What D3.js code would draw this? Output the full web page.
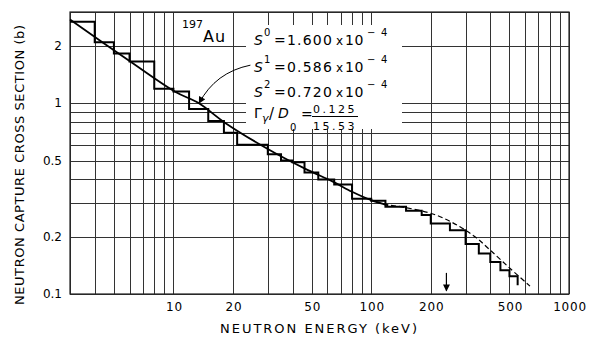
<!DOCTYPE html>
<html lang="en">
<head>
<meta charset="UTF-8">
<title>197Au neutron capture cross section</title>
<script src="https://d3js.org/d3.v7.min.js"></script>
<style>
  body { margin: 0; padding: 0; background: #fff; }
  svg { display: block; font-family: "DejaVu Sans", sans-serif; }
</style>
</head>
<body>
<svg id="chart" width="590" height="337"></svg>
<script>
// staircase: bin edges (keV) and average cross sections (b)
const binEdges = [3, 4, 5, 6, 8, 10, 12, 15, 18, 21, 30, 35, 40, 46, 54, 65, 80, 100,
                  118, 150, 180, 200, 250, 300, 350, 400, 450, 500, 550];
const binSigma = [2.67, 2.08, 1.82, 1.65, 1.19, 1.15, 0.93, 0.805, 0.70, 0.605, 0.54, 0.50,
                  0.49, 0.433, 0.398, 0.375, 0.315, 0.308, 0.286, 0.273, 0.259, 0.234,
                  0.216, 0.183, 0.163, 0.147, 0.133, 0.124];
const lastDrop = 0.111;

// smooth calculated curve (solid) and its continuation (dashed)
const fitE = [3, 6, 10.2, 13.4, 18.2, 30, 46, 64, 80, 100, 122];
const fitS = [2.74, 1.66, 1.146, 1.0, 0.79, 0.575, 0.455, 0.388, 0.343, 0.31, 0.291];
const dashE = [115, 151, 213, 281, 340, 399, 504, 635];
const dashS = [0.295, 0.283, 0.259, 0.225, 0.197, 0.17, 0.136, 0.11];

const xTickLabels = [10, 20, 50, 100, 200, 500, 1000];
const yTickLabels = [0.1, 0.2, 0.5, 1, 2];
const markerE = 240;

const svg = d3.select('#chart');
const margin = { top: 12, right: 21, bottom: 43, left: 70 };
const W = 590, H = 337;

const x = d3.scaleLog().domain([3, 1000]).range([margin.left, W - margin.right]);
const y = d3.scaleLog().domain([0.1, 3]).range([H - margin.bottom, margin.top]);

// grid
const grid = svg.append('g').attr('stroke', '#333').attr('stroke-width', 1)
  .attr('shape-rendering', 'crispEdges');
grid.selectAll('.vx').data(x.ticks()).enter().append('line')
  .attr('x1', d => Math.round(x(d)) + 0.5).attr('x2', d => Math.round(x(d)) + 0.5)
  .attr('y1', y(3)).attr('y2', y(0.1));
grid.selectAll('.hy').data(y.ticks()).enter().append('line')
  .attr('y1', d => Math.round(y(d)) + 0.5).attr('y2', d => Math.round(y(d)) + 0.5)
  .attr('x1', x(3)).attr('x2', x(1000));
svg.append('rect')
  .attr('x', x(3)).attr('y', y(3))
  .attr('width', x(1000) - x(3)).attr('height', y(0.1) - y(3))
  .attr('fill', 'none').attr('stroke', '#222').attr('stroke-width', 1.2);

// white patch behind the parameter block
svg.append('rect').attr('x', 246).attr('y', 25).attr('width', 156).attr('height', 104)
  .attr('fill', '#fff');

// staircase
let stair = `M${x(binEdges[0])},${y(binSigma[0])}`;
binSigma.forEach((s, i) => {
  stair += `V${y(s)}H${x(binEdges[i + 1])}`;
});
stair += `V${y(lastDrop)}`;
svg.append('path').attr('d', stair).attr('fill', 'none')
  .attr('stroke', '#000').attr('stroke-width', 2);

// curves
const line = d3.line().x(d => x(d[0])).y(d => y(d[1])).curve(d3.curveCatmullRom);
svg.append('path').datum(d3.zip(fitE, fitS)).attr('d', line)
  .attr('fill', 'none').attr('stroke', '#000').attr('stroke-width', 1.8);
svg.append('path').datum(d3.zip(dashE, dashS)).attr('d', line)
  .attr('fill', 'none').attr('stroke', '#000').attr('stroke-width', 1.2)
  .attr('stroke-dasharray', '5,3');

// tick labels
svg.append('g').selectAll('text').data(xTickLabels).enter().append('text')
  .attr('x', d => x(d) + 1).attr('y', 311)
  .attr('text-anchor', 'middle').attr('font-size', 12).attr('letter-spacing', 0.8)
  .text(d => d);
svg.append('g').selectAll('text').data(yTickLabels).enter().append('text')
  .attr('x', 62).attr('y', d => y(d) + 4.3)
  .attr('text-anchor', 'end').attr('font-size', 12)
  .text(d => d);

// axis titles
svg.append('text').attr('x', 220).attr('y', 333)
  .attr('font-size', 13).attr('textLength', 197).attr('lengthAdjust', 'spacing')
  .text('NEUTRON ENERGY (keV)');
svg.append('text').attr('transform', 'translate(24,305) rotate(-90)')
  .attr('font-size', 13).attr('textLength', 280).attr('lengthAdjust', 'spacing')
  .text('NEUTRON CAPTURE CROSS SECTION (b)');

// annotation: isotope
const iso = svg.append('text').attr('x', 182).attr('y', 41.5).attr('font-size', 16);
iso.append('tspan').attr('font-size', 11).attr('dy', -13.5).text('197');
iso.append('tspan').attr('dy', 13.5).attr('letter-spacing', 1).text('Au');

// annotation: strength functions
const sLines = [['0', '1.600', 45], ['1', '0.586', 71.5], ['2', '0.720', 96.5]];
sLines.forEach(([l, v, by]) => {
  const t = svg.append('g').attr('font-size', 14);
  t.append('text').attr('x', 254).attr('y', by).attr('font-style', 'italic').text('S');
  t.append('text').attr('x', 264).attr('y', by - 9).attr('font-size', 10).text(l);
  t.append('text').attr('x', 274).attr('y', by).text('=');
  t.append('text').attr('x', 287).attr('y', by).attr('letter-spacing', 1.2).text(v);
  t.append('text').attr('x', 336).attr('y', by).attr('font-size', 12).text('x');
  t.append('text').attr('x', 345).attr('y', by).attr('letter-spacing', 0.5).text('10');
  t.append('text').attr('x', 367).attr('y', by - 9).attr('font-size', 10).text('\u2212');
  t.append('text').attr('x', 381).attr('y', by - 9).attr('font-size', 10).text('4');
});

// Gamma / D0 line
const g = svg.append('g').attr('font-size', 14);
g.append('text').attr('x', 254).attr('y', 118).text('\u0393');
g.append('text').attr('x', 262).attr('y', 122).attr('font-size', 11).attr('font-style', 'italic').text('\u03b3');
g.append('text').attr('x', 269).attr('y', 119).attr('font-size', 15).text('/');
g.append('text').attr('x', 278).attr('y', 118).attr('font-style', 'italic').text('D');
g.append('text').attr('x', 290).attr('y', 131).attr('font-size', 10).text('0');
g.append('text').attr('x', 301).attr('y', 119).text('=');
g.append('text').attr('x', 335).attr('y', 113).attr('font-size', 11).attr('letter-spacing', 2.5)
  .attr('text-anchor', 'middle').text('0.125');
g.append('line').attr('x1', 312).attr('x2', 358).attr('y1', 116.5).attr('y2', 116.5)
  .attr('stroke', '#000').attr('stroke-width', 1.2);
g.append('text').attr('x', 335).attr('y', 130).attr('font-size', 11).attr('letter-spacing', 2.5)
  .attr('text-anchor', 'middle').text('15.53');

// arrow heads
const defs = svg.append('defs');
defs.append('marker').attr('id', 'head').attr('viewBox', '0 0 10 10')
  .attr('refX', 9).attr('refY', 5).attr('markerWidth', 9).attr('markerHeight', 7)
  .attr('markerUnits', 'userSpaceOnUse').attr('orient', 'auto')
  .append('path').attr('d', 'M0,0L10,5L0,10Z').attr('fill', '#000');

// curved pointer from S1 to the curve
const p0 = [24.5, 1.58], pc = [16.3, 1.45], p1 = [13.5, 1.0];
svg.append('path')
  .attr('d', `M${x(p0[0])},${y(p0[1])}Q${x(pc[0])},${y(pc[1])} ${x(p1[0])},${y(p1[1])}`)
  .attr('fill', 'none').attr('stroke', '#000').attr('stroke-width', 1)
  .attr('marker-end', 'url(#head)');

// energy marker arrow
svg.append('line').attr('x1', x(markerE)).attr('x2', x(markerE))
  .attr('y1', y(0.129)).attr('y2', y(0.104))
  .attr('stroke', '#000').attr('stroke-width', 1.2).attr('marker-end', 'url(#head)');
</script>
</body>
</html>
